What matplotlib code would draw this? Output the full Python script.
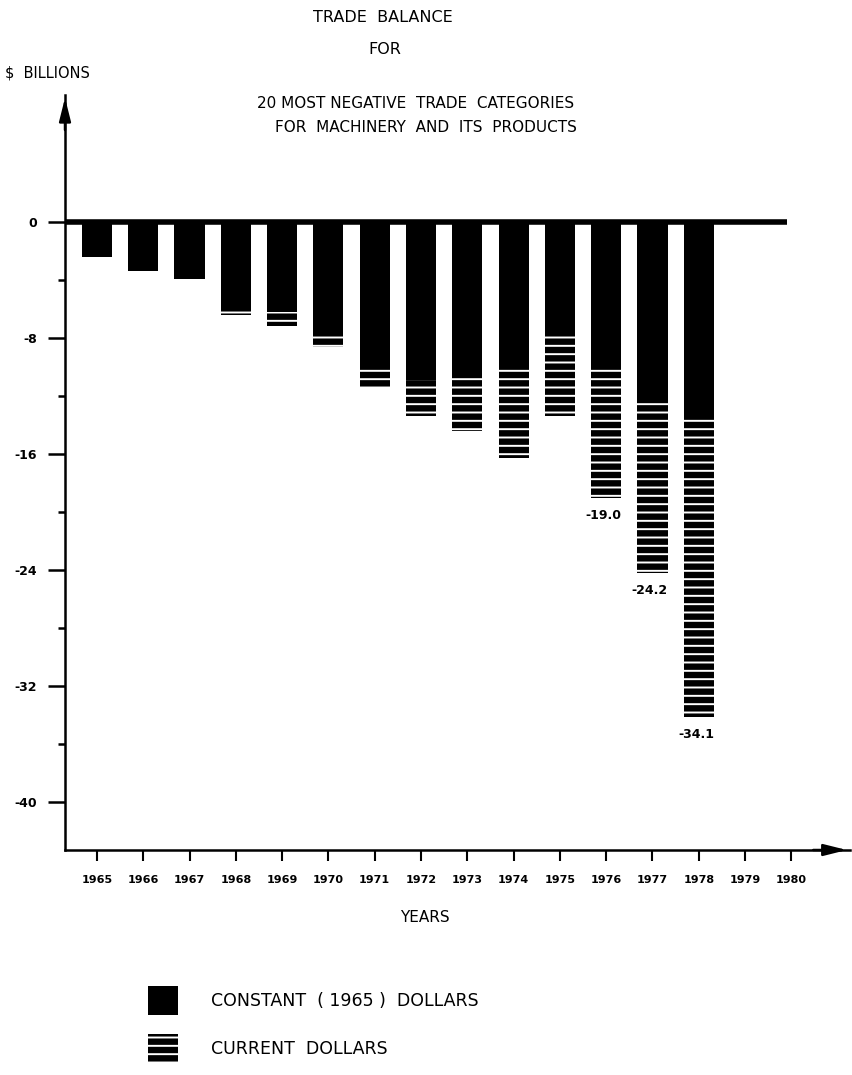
import numpy as np
import matplotlib
matplotlib.use("Agg")
import matplotlib.pyplot as plt
from matplotlib.patches import Patch

years = [1965, 1966, 1967, 1968, 1969, 1970, 1971, 1972, 1973, 1974, 1975, 1976, 1977, 1978]
constant = [-2.4, -3.4, -3.9, -5.9, -6.2, -7.6, -9.9, -10.9, -10.5, -10.1, -7.5, -10.0, -12.1, -13.5]
current = [-2.4, -3.4, -3.9, -6.4, -7.2, -8.6, -11.4, -13.4, -14.4, -16.3, -13.4, -19.0, -24.2, -34.1]
label_years = [1976, 1977, 1978]
year_ticks = list(range(1965, 1981))
y_major = [0, -8, -16, -24, -32, -40]
y_minor = [-4, -12, -20, -28, -36]

plt.rcParams['font.family'] = 'DejaVu Sans'
plt.rcParams['hatch.linewidth'] = 1.4

fig = plt.figure(figsize=(8.52, 10.75), dpi=100)
ax = fig.add_axes([0.0763, 0.2093, 0.921, 0.7023])
ax.set_xlim(1964.31, 1981.26)
ax.set_ylim(-43.3, 8.76)

# constant dollars (solid) and extra for current dollars (striped)
ax.bar(years, constant, width=0.65, color='black', linewidth=0)
extra = np.subtract(current, constant)
ax.bar(years, extra, bottom=constant, width=0.65, facecolor='black',
       edgecolor='white', linewidth=0, hatch='--')

ax.hlines(0, 1964.31, 1979.9, color='black', lw=4)

for y, v in zip(years, current):
    if y in label_years:
        ax.annotate(f"{v:.1f}", (y, v), xytext=(-2, -8), textcoords='offset points',
                    ha='center', va='top', fontsize=9, fontweight='bold')

for s in ['top', 'right']:
    ax.spines[s].set_visible(False)
ax.spines['left'].set_linewidth(1.8)
ax.spines['bottom'].set_linewidth(1.8)

ax.annotate('', xy=(1.0, 0), xytext=(0.95, 0), xycoords='axes fraction',
            arrowprops=dict(arrowstyle='-|>,head_length=1.4,head_width=0.35',
                            color='black', lw=1.8))
ax.annotate('', xy=(0, 1.0), xytext=(0, 0.95), xycoords='axes fraction',
            arrowprops=dict(arrowstyle='-|>,head_length=1.4,head_width=0.35',
                            color='black', lw=1.8))

ax.set_yticks(y_major)
ax.set_yticklabels([str(v) for v in y_major], fontsize=9, fontweight='bold')
ax.set_yticks(y_minor, minor=True)
ax.tick_params(axis='y', which='major', length=12, width=1.8, pad=8)
ax.tick_params(axis='y', which='minor', length=5, width=1.8)

ax.set_xticks(year_ticks)
ax.set_xticklabels([str(y) for y in year_ticks], fontsize=8, fontweight='bold')
ax.tick_params(axis='x', which='major', length=8, width=1.5, pad=10)

fig.text(383 / 852, 1 - 18 / 1075, "TRADE  BALANCE", ha='center', va='center', fontsize=11.5)
fig.text(385 / 852, 1 - 50 / 1075, "FOR", ha='center', va='center', fontsize=11.5)
fig.text(5 / 852, 1 - 73 / 1075, "$  BILLIONS", ha='left', va='center', fontsize=10.5)
fig.text(416 / 852, 1 - 103 / 1075, "20 MOST NEGATIVE  TRADE  CATEGORIES",
         ha='center', va='center', fontsize=11)
fig.text(426 / 852, 1 - 128 / 1075, "FOR  MACHINERY  AND  ITS  PRODUCTS",
         ha='center', va='center', fontsize=11)
fig.text(425 / 852, 1 - 918 / 1075, "YEARS", ha='center', va='center', fontsize=11)

handles = [Patch(facecolor='black', linewidth=0),
           Patch(facecolor='black', edgecolor='white', linewidth=0, hatch='--')]
labels = ["CONSTANT  ( 1965 )  DOLLARS", "CURRENT  DOLLARS"]
fig.legend(handles, labels, loc='upper left', bbox_to_anchor=(139 / 852, 1 - 977 / 1075),
           frameon=False, fontsize=12.5, handlelength=1.75, handleheight=2.2,
           handletextpad=1.9, labelspacing=1.1, borderpad=0)

fig.savefig("out.png", dpi=100)
